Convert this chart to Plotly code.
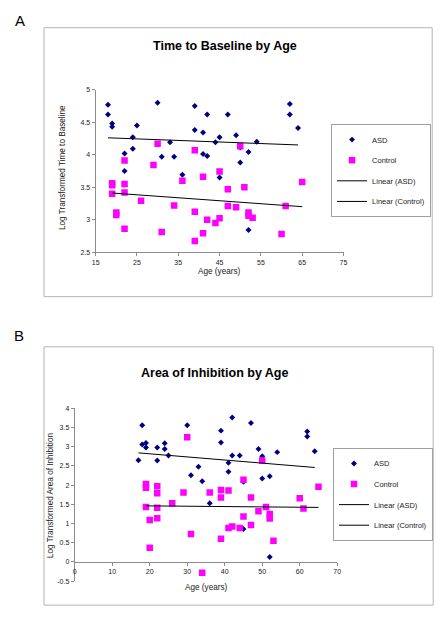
import plotly.graph_objects as go

W, H = 447, 618

# ---------------- Panel A data: Time to Baseline ----------------
a_asd_age = [18, 18, 19, 19, 22, 22, 24, 24, 25, 30, 31, 33, 34, 36, 39, 39, 41, 41,
             42, 42, 44, 45, 45, 47, 49, 50, 50, 52, 52, 54, 62, 62, 64]
a_asd_val = [4.77, 4.62, 4.48, 4.43, 4.02, 3.75, 4.27, 4.09, 4.45, 4.80, 3.97, 4.19, 3.97,
             3.69, 4.75, 4.38, 4.34, 4.01, 4.62, 3.98, 4.19, 4.27, 3.65, 4.62, 4.30, 4.11,
             3.88, 4.04, 2.84, 4.20, 4.78, 4.62, 4.41]
a_ctl_age = [19, 19, 19, 20, 20, 22, 22, 22, 22, 26, 29, 30, 31, 34, 36, 39, 39, 39, 41,
             41, 42, 44, 45, 45, 47, 47, 49, 50, 51, 52, 52, 53, 60, 61, 65]
a_ctl_val = [3.56, 3.53, 3.40, 3.11, 3.07, 3.91, 3.55, 3.42, 2.86, 3.29, 3.84, 4.17, 2.81,
             3.22, 3.60, 4.07, 3.12, 2.67, 3.66, 2.79, 3.00, 2.95, 3.74, 3.02, 3.47, 3.21,
             3.19, 4.13, 3.50, 3.11, 3.06, 3.03, 2.78, 3.21, 3.58]
a_lin_asd_x = [18, 64]
a_lin_asd_y = [4.26, 4.15]
a_lin_ctl_x = [19, 65]
a_lin_ctl_y = [3.41, 3.20]

# ---------------- Panel B data: Area of Inhibition ----------------
b_asd_age = [17, 18, 18, 19, 19, 22, 22, 24, 24, 25, 30, 31, 33, 34, 36, 39, 39, 41, 41,
             42, 42, 44, 45, 45, 47, 49, 50, 50, 52, 52, 54, 62, 62, 64]
b_asd_val = [2.65, 3.56, 3.06, 3.10, 2.98, 2.98, 2.64, 3.09, 2.94, 2.77, 3.56, 2.26, 2.48,
             2.10, 1.53, 3.42, 3.11, 2.58, 2.35, 3.76, 2.77, 2.77, 2.09, 0.86, 3.62, 2.94,
             2.75, 2.17, 2.23, 0.13, 2.86, 3.40, 3.27, 2.88]
b_ctl_age = [19, 19, 19, 20, 20, 22, 22, 22, 22, 26, 29, 30, 31, 34, 36, 39, 39, 39, 41,
             41, 42, 44, 45, 45, 47, 47, 49, 50, 51, 52, 52, 53, 60, 61, 65]
b_ctl_val = [2.03, 1.93, 1.43, 1.09, 0.37, 1.97, 1.79, 1.41, 1.14, 1.53, 1.81, 3.25, 0.73,
             -0.28, 1.81, 1.87, 1.68, 0.60, 1.86, 0.88, 0.92, 0.88, 2.14, 1.18, 1.68, 0.96,
             1.32, 2.64, 1.43, 1.25, 1.13, 0.55, 1.66, 1.39, 1.96]
b_lin_asd_x = [17, 64]
b_lin_asd_y = [2.84, 2.46]
b_lin_ctl_x = [19, 65]
b_lin_ctl_y = [1.46, 1.42]

a_xticks = [15, 25, 35, 45, 55, 65, 75]
a_yticks = [2.5, 3, 3.5, 4, 4.5, 5]
b_xticks = [0, 10, 20, 30, 40, 50, 60, 70]
b_yticks = [-0.5, 0, 0.5, 1, 1.5, 2, 2.5, 3, 3.5, 4]
b_yticktext = ["-0.5", "0", "0.5", "1", "1.5", "2", "2.5", "3", "3.5", "4"]

series_names = ["ASD", "Control", "Linear (ASD)", "Linear (Control)"]

NAVY = "#000080"
MAG = "#FF00FF"
FONT = "Liberation Sans, Arial, sans-serif"
AXC = "#8c8c8c"


def px(x):
    return x / W


def py(y):
    return 1 - y / H


fig = go.Figure()

def add_panel(asd_x, asd_y, ctl_x, ctl_y, lax, lay, lcx, lcy, xa, ya, leg, grp):
    fig.add_trace(go.Scatter(x=asd_x, y=asd_y, mode="markers", name=series_names[0],
                             marker=dict(symbol="diamond", size=4.6, color=NAVY),
                             xaxis=xa, yaxis=ya, legend=leg, legendgroup=grp + "1"))
    fig.add_trace(go.Scatter(x=ctl_x, y=ctl_y, mode="markers", name=series_names[1],
                             marker=dict(symbol="square", size=6.5, color=MAG),
                             xaxis=xa, yaxis=ya, legend=leg, legendgroup=grp + "2"))
    fig.add_trace(go.Scatter(x=lax, y=lay, mode="lines", name=series_names[2],
                             line=dict(color="black", width=1),
                             xaxis=xa, yaxis=ya, legend=leg, legendgroup=grp + "3"))
    fig.add_trace(go.Scatter(x=lcx, y=lcy, mode="lines", name=series_names[3],
                             line=dict(color="black", width=1),
                             xaxis=xa, yaxis=ya, legend=leg, legendgroup=grp + "4"))

add_panel(a_asd_age, a_asd_val, a_ctl_age, a_ctl_val, a_lin_asd_x, a_lin_asd_y,
          a_lin_ctl_x, a_lin_ctl_y, "x", "y", "legend", "a")
add_panel(b_asd_age, b_asd_val, b_ctl_age, b_ctl_val, b_lin_asd_x, b_lin_asd_y,
          b_lin_ctl_x, b_lin_ctl_y, "x2", "y2", "legend2", "b")

axis_common = dict(showgrid=False, zeroline=False, showline=True, linecolor=AXC,
                   linewidth=1, ticks="outside", ticklen=3, tickcolor=AXC,
                   tickfont=dict(family=FONT, size=7, color="#222222"))

leg_common = dict(bgcolor="white", bordercolor="#a0a0a0", borderwidth=1,
                  font=dict(family=FONT, size=7.5, color="#222222"),
                  xanchor="left", yanchor="top", tracegroupgap=1.6, itemwidth=30)

fig.update_layout(
    width=W, height=H, autosize=False,
    margin=dict(l=0, r=0, t=0, b=0),
    paper_bgcolor="white", plot_bgcolor="white",
    xaxis=dict(domain=[px(93.3), px(345.7)], range=[15, 75], tickvals=a_xticks,
               anchor="y", **axis_common),
    yaxis=dict(domain=[py(251), py(86.7)], range=[2.5, 5], tickvals=a_yticks,
               anchor="x", **axis_common),
    xaxis2=dict(domain=[px(72), px(339.3)], range=[0, 70], tickvals=b_xticks,
                anchor="free", position=py(564.3), **axis_common),
    yaxis2=dict(domain=[py(583.7), py(409)], range=[-0.5, 4], tickvals=b_yticks,
                ticktext=b_yticktext, anchor="x2", **axis_common),
    legend=dict(x=px(333), y=py(121.5), **leg_common),
    legend2=dict(x=px(335), y=py(449), **leg_common),
    showlegend=True,
)

# Panel frames
fig.add_shape(type="rect", xref="paper", yref="paper", x0=px(40.7), x1=px(436),
              y0=py(296), y1=py(24), line=dict(color="#b4b4b4", width=1))
fig.add_shape(type="rect", xref="paper", yref="paper", x0=px(40.7), x1=px(437),
              y0=py(608), y1=py(346.7), line=dict(color="#b4b4b4", width=1))

def ann(text, x, y, size, bold=False, angle=0, color="#222222"):
    fig.add_annotation(text=("<b>%s</b>" % text) if bold else text, xref="paper", yref="paper",
                       x=px(x), y=py(y), xanchor="center", yanchor="middle",
                       showarrow=False, textangle=angle,
                       font=dict(family=FONT, size=size, color=color))

ann("A", 15.8, 16.3, 15, color="black")
ann("B", 15.5, 335, 15, color="black")
ann("Time to Baseline by Age", 225.3, 42.3, 12.5, bold=True, color="black")
ann("Area of Inhibition by Age", 215, 373.7, 12.5, bold=True, color="black")
ann("Age (years)", 219.5, 271, 8.2)
ann("Age (years)", 205.7, 590, 8.2)
ann("Log Transformed Time to Baseline", 59, 165, 8.2, angle=-90)
ann("Log Transformed Area of Inhibition", 47.3, 496.3, 8.2, angle=-90)

fig.write_html("out.html",
               config={"displayModeBar": False},
               post_script="document.body.style.margin='0px';"
                           "document.body.style.overflow='hidden';")
